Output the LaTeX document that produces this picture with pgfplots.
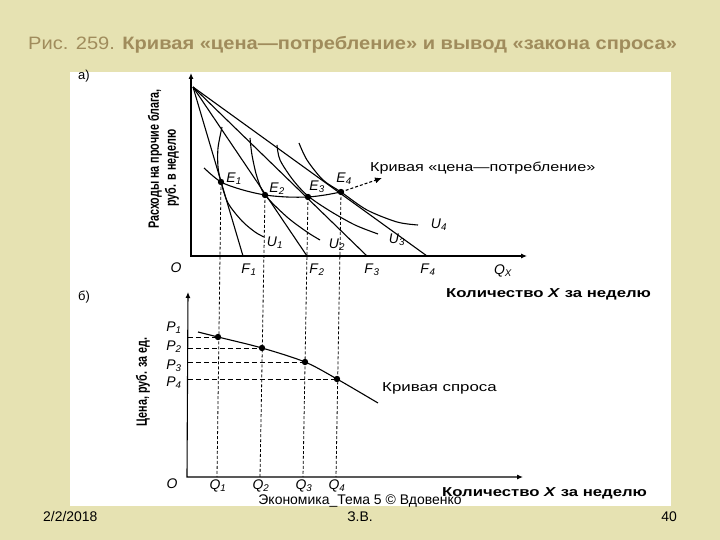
\documentclass[border=0pt]{standalone}
\usepackage{pgfplots}
\pgfplotsset{compat=1.18}
\usepackage{fontspec}
\setmainfont{Liberation Sans}
\usetikzlibrary{arrows.meta}
\definecolor{slidebg}{HTML}{E6E2B2}
\definecolor{titlecol}{HTML}{A08C5C}
\newcommand{\sub}[2]{\textit{#1}\textsubscript{\itshape #2}}
\newcommand{\fs}[1]{\fontsize{#1}{#1}\selectfont}
\tikzset{lbl/.style={font=\fs{14}, inner sep=0pt}}

\begin{document}
\begin{tikzpicture}
\begin{axis}[
  scale only axis, width=720bp, height=540bp,
  xmin=0, xmax=720, ymin=0, ymax=540, y dir=reverse,
  hide axis, clip=false,
  cycle list={{black, solid, mark=none}},
  every axis plot/.append style={line width=1.1pt},
]
% slide background and the white figure area
\addplot[fill=slidebg, draw=none] coordinates {(0,0) (720,0) (720,540) (0,540)} -- cycle;
\addplot[fill=white, draw=none] coordinates {(70,72) (671,72) (671,506) (70,506)} -- cycle;

% ---- panel a: budget lines
\addplot coordinates {(193,87) (243,256)};
\addplot coordinates {(193,87) (307,256)};
\addplot coordinates {(193,87) (367,256)};
\addplot coordinates {(193,87) (427,256)};
% axes
\addplot[{Latex[length=6bp,width=5bp]}-{Latex[length=6bp,width=5bp]}]
  coordinates {(191,73) (191,256) (527,256)};
% indifference curves
\addplot[smooth] coordinates {(222,127) (218,148) (218,167) (221,182) (228,203) (242,221) (255,232) (264,237)};
\addplot[smooth] coordinates {(250,138) (252,155) (257,177) (265,195) (287,217) (307,232) (320,240)};
\addplot[smooth] coordinates {(277,145) (280,160) (293,180) (308,196) (330,211) (355,225) (378,234)};
\addplot[smooth] coordinates {(299,143) (307,160) (323,180) (341,192) (367,210) (397,222) (418,225)};
% price-consumption curve
\addplot[smooth] coordinates {(204,168) (221,182) (243,190) (265,195) (287,197) (308,197) (325,195) (341,192)};
\addplot[dash pattern=on 3pt off 2pt, -{Latex[length=7bp,width=6bp]}] coordinates {(341,192) (382,178)};
\addplot[only marks, mark=*, mark size=2.6] coordinates {(221,182) (265,195) (308,197) (341,192)};

% dashed verticals down to panel b
\addplot[dash pattern=on 3pt off 2pt, line width=0.8pt] coordinates {(221,182) (217,477)};
\addplot[dash pattern=on 3pt off 2pt, line width=0.8pt] coordinates {(265,195) (260,477)};
\addplot[dash pattern=on 3pt off 2pt, line width=0.8pt] coordinates {(308,197) (303,477)};
\addplot[dash pattern=on 3pt off 2pt, line width=0.8pt] coordinates {(341,192) (336,477)};

% ---- panel b
\addplot[{Latex[length=6bp,width=5bp]}-{Latex[length=6bp,width=5bp]}]
  coordinates {(188,292) (187,477) (523,477)};
\addplot[smooth] coordinates {(198,332) (218,337) (262,348) (305,362) (337,379) (378,403)};
\addplot[only marks, mark=*, mark size=2.6] coordinates {(218,337) (262,348) (305,362) (337,379)};
\addplot[dash pattern=on 5pt off 3pt, line width=0.7pt] coordinates {(188,337) (218,337)};
\addplot[dash pattern=on 5pt off 3pt, line width=0.7pt] coordinates {(188,348) (262,348)};
\addplot[dash pattern=on 5pt off 3pt, line width=0.7pt] coordinates {(188,362) (305,362)};
\addplot[dash pattern=on 5pt off 3pt, line width=0.7pt] coordinates {(188,379) (337,379)};

% ---- texts
\node[anchor=west, text=titlecol, font=\fs{18}, inner sep=0pt] at (axis cs:28,45)
  {\scalebox{1.12}[1]{Рис. 259. \textbf{Кривая «цена—потребление» и вывод «закона спроса»}}};
\node[lbl, anchor=west, font=\fs{13}] at (axis cs:78,76) {а)};
\node[lbl, anchor=west, font=\fs{13}] at (axis cs:78,297) {б)};
\node[rotate=90, font=\fs{15}\bfseries, inner sep=0pt] at (axis cs:155,159) {\scalebox{0.72}[1]{Расходы на прочие блага,}};
\node[rotate=90, font=\fs{15}\bfseries, inner sep=0pt] at (axis cs:172,168) {\scalebox{0.72}[1]{руб. в неделю}};
\node[rotate=90, font=\fs{15}\bfseries, inner sep=0pt] at (axis cs:143,382) {\scalebox{0.72}[1]{Цена, руб. за ед.}};

\node[lbl] at (axis cs:176,268) {\textit{O}};
\node[lbl] at (axis cs:249,270) {\sub{F}{1}};
\node[lbl] at (axis cs:317,270) {\sub{F}{2}};
\node[lbl] at (axis cs:372,270) {\sub{F}{3}};
\node[lbl] at (axis cs:428,270) {\sub{F}{4}};
\node[lbl] at (axis cs:503,271) {\sub{Q}{X}};
\node[lbl] at (axis cs:234,179) {\sub{E}{1}};
\node[lbl] at (axis cs:277,189) {\sub{E}{2}};
\node[lbl] at (axis cs:317,187) {\sub{E}{3}};
\node[lbl] at (axis cs:344,179) {\sub{E}{4}};
\node[lbl] at (axis cs:275,243) {\sub{U}{1}};
\node[lbl] at (axis cs:337,245) {\sub{U}{2}};
\node[lbl] at (axis cs:397,240) {\sub{U}{3}};
\node[lbl] at (axis cs:439,225) {\sub{U}{4}};
\node[anchor=west, font=\fs{13}, inner sep=0pt] at (axis cs:370,168) {\scalebox{1.25}[1]{Кривая «цена—потребление»}};
\node[anchor=west, font=\fs{13}\bfseries, inner sep=0pt] at (axis cs:446,294) {\scalebox{1.29}[1]{Количество \textit{X} за неделю}};

\node[lbl] at (axis cs:174,328) {\sub{P}{1}};
\node[lbl] at (axis cs:174,347) {\sub{P}{2}};
\node[lbl] at (axis cs:174,366) {\sub{P}{3}};
\node[lbl] at (axis cs:174,383) {\sub{P}{4}};
\node[lbl] at (axis cs:172,484) {\textit{O}};
\node[lbl] at (axis cs:218,486) {\sub{Q}{1}};
\node[lbl] at (axis cs:261,486) {\sub{Q}{2}};
\node[lbl] at (axis cs:304,486) {\sub{Q}{3}};
\node[lbl] at (axis cs:337,486) {\sub{Q}{4}};
\node[anchor=west, font=\fs{13}, inner sep=0pt] at (axis cs:382,388) {\scalebox{1.3}[1]{Кривая спроса}};
\node[anchor=west, font=\fs{13}\bfseries, inner sep=0pt] at (axis cs:442,493) {\scalebox{1.29}[1]{Количество \textit{X} за неделю}};

% footer
\node[font=\fs{14}, inner sep=0pt] at (axis cs:360,501) {Экономика\_Тема 5 © Вдовенко};
\node[font=\fs{14}, inner sep=0pt] at (axis cs:360,517) {З.В.};
\node[anchor=west, font=\fs{14}, inner sep=0pt] at (axis cs:43,517) {2/2/2018};
\node[anchor=east, font=\fs{14}, inner sep=0pt] at (axis cs:677,517) {40};
\end{axis}
\end{tikzpicture}
\end{document}
